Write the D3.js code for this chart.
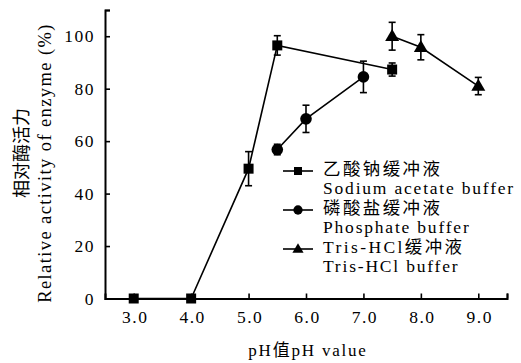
<!DOCTYPE html>
<html>
<head>
<meta charset="utf-8">
<script src="https://cdn.jsdelivr.net/npm/d3@7/dist/d3.min.js"></script>
<style>
  html, body { margin: 0; padding: 0; background: #fff; }
</style>
</head>
<body>
<svg id="chart" width="521" height="363"></svg>
<script>
// pH values and relative activity (%) for each buffer, with error bar half-widths
const acetatePH = [3.0, 4.0, 5.0, 5.5, 7.5];
const acetateActivity = [0, 0, 49.5, 96.5, 87.3];
const acetateError = [0, 0, 6.5, 3.7, 2.5];

const phosphatePH = [5.5, 6.0, 7.0];
const phosphateActivity = [56.8, 68.5, 84.5];
const phosphateError = [2.0, 5.2, 6.0];

const trisPH = [7.5, 8.0, 9.0];
const trisActivity = [100.0, 95.8, 81.0];
const trisError = [5.3, 4.8, 3.3];

const xTicks = [3.0, 4.0, 5.0, 6.0, 7.0, 8.0, 9.0, 9.5];
const xTickLabels = ["3.0", "4.0", "5.0", "6.0", "7.0", "8.0", "9.0", ""];
const yTicks = [0, 20, 40, 60, 80, 100, 110];
const yTickLabels = ["0", "20", "40", "60", "80", "100", ""];

const legendNames = ["乙酸钠缓冲液", "磷酸盐缓冲液", "Tris-HCl缓冲液"];
const legendNamesEn = ["Sodium acetate buffer", "Phosphate buffer", "Tris-HCl buffer"];

const FONT = '"Liberation Serif", "Times New Roman", "Noto Sans CJK SC", serif';

const svg = d3.select("#chart");
const x = d3.scaleLinear().domain([2.5, 9.5]).range([105, 507]);
const y = d3.scaleLinear().domain([0, 110]).range([298.5, 10]);

function txt(sel, size, spacing) {
  return sel.style("font-family", FONT)
    .style("font-size", size + "px")
    .style("letter-spacing", spacing + "px")
    .attr("fill", "#000");
}

// axes with inward ticks
const xAxis = d3.axisBottom(x)
  .tickValues(xTicks)
  .tickFormat((d, i) => xTickLabels[i])
  .tickSize(-5)
  .tickPadding(12);
const yAxis = d3.axisLeft(y)
  .tickValues(yTicks)
  .tickFormat((d, i) => yTickLabels[i])
  .tickSize(-5)
  .tickPadding(10);

const gx = svg.append("g").attr("transform", `translate(0,${y(0)})`).call(xAxis);
const gy = svg.append("g").attr("transform", `translate(${x(2.5)},0)`).call(yAxis);
[gx, gy].forEach(g => {
  g.select(".domain").attr("stroke", "#000").attr("stroke-width", 2);
  g.selectAll(".tick line").attr("stroke", "#000").attr("stroke-width", 1.6);
  txt(g.selectAll(".tick text"), 17.5, 1.5);
});
gx.selectAll(".tick text").attr("dx", "1px");

// axis titles
txt(svg.append("text"), 17, 1.8)
  .attr("x", 308).attr("y", 356)
  .attr("text-anchor", "middle")
  .text("pH值pH value");

txt(svg.append("text"), 18, 0)
  .attr("transform", "translate(28,153) rotate(-90)")
  .attr("text-anchor", "middle")
  .text("相对酶活力");
txt(svg.append("text"), 18.5, 1.4)
  .attr("transform", "translate(51,163) rotate(-90)")
  .attr("text-anchor", "middle")
  .text("Relative activity of enzyme (%)");

const series = [
  { ph: acetatePH, v: acetateActivity, e: acetateError, shape: "square" },
  { ph: phosphatePH, v: phosphateActivity, e: phosphateError, shape: "circle" },
  { ph: trisPH, v: trisActivity, e: trisError, shape: "triangle" }
];

function marker(g, shape, cx, cy, scale) {
  if (shape === "square") {
    const s = 10 * scale;
    g.append("rect").attr("x", cx - s / 2).attr("y", cy - s / 2)
      .attr("width", s).attr("height", s).attr("fill", "#000");
  } else if (shape === "circle") {
    g.append("circle").attr("cx", cx).attr("cy", cy).attr("r", 5.8 * scale).attr("fill", "#000");
  } else {
    const w = 14 * scale, h = 12 * scale;
    g.append("path")
      .attr("d", `M${cx},${cy - h * 0.6}L${cx + w / 2},${cy + h * 0.4}L${cx - w / 2},${cy + h * 0.4}Z`)
      .attr("fill", "#000");
  }
}

const line = d3.line().x(d => x(d[0])).y(d => y(d[1]));
const plot = svg.append("g");

series.forEach(s => {
  const pts = s.ph.map((p, i) => [p, s.v[i], s.e[i]]);
  plot.append("path").datum(pts).attr("d", line)
    .attr("fill", "none").attr("stroke", "#000").attr("stroke-width", 1.6);
  // error bars
  pts.filter(d => d[2] > 0).forEach(d => {
    const cx = x(d[0]), top = y(d[1] + d[2]), bot = y(d[1] - d[2]);
    const eb = plot.append("g").attr("stroke", "#000").attr("stroke-width", 1.6);
    eb.append("line").attr("x1", cx).attr("x2", cx).attr("y1", top).attr("y2", bot);
    eb.append("line").attr("x1", cx - 3.5).attr("x2", cx + 3.5).attr("y1", top).attr("y2", top);
    eb.append("line").attr("x1", cx - 3.5).attr("x2", cx + 3.5).attr("y1", bot).attr("y2", bot);
  });
  pts.forEach(d => marker(plot, s.shape, x(d[0]), y(d[1]), 1));
});

// legend: Chinese name with the English name on the line below
const legend = svg.append("g");
series.forEach((s, i) => {
  const ly = 171 + i * 39;
  legend.append("line").attr("x1", 283).attr("x2", 313).attr("y1", ly).attr("y2", ly)
    .attr("stroke", "#000").attr("stroke-width", 1.6);
  marker(legend, s.shape, 298, ly, 0.8);
  txt(legend.append("text"), 17.5, 2.4)
    .attr("x", 323).attr("y", ly + 4)
    .text(legendNames[i]);
  txt(legend.append("text"), 17.5, 1.8)
    .attr("x", 323).attr("y", ly + 23)
    .text(legendNamesEn[i]);
});
</script>
</body>
</html>
